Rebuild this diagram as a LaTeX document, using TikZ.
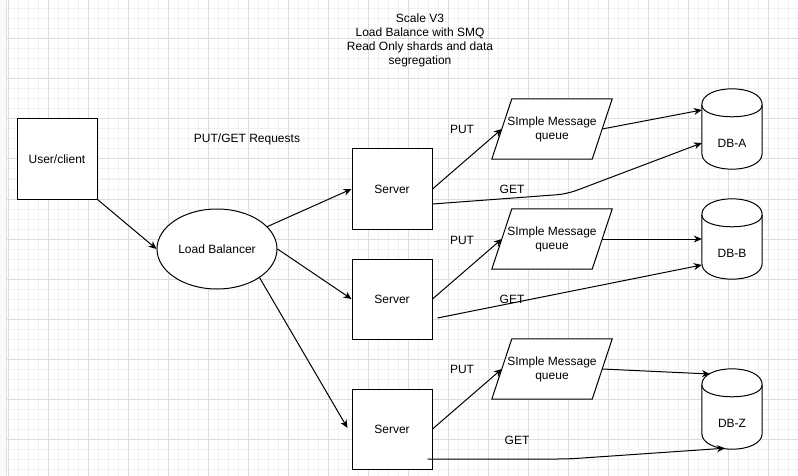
\documentclass[tikz,border=0pt]{standalone}
\usepackage{fontspec}
\setmainfont{Liberation Sans}
\usetikzlibrary{arrows.meta,calc,shapes.geometric}
\definecolor{minorgrid}{HTML}{F1F1F1}
\definecolor{majorgrid}{HTML}{DDDDDD}
\begin{document}
\begin{tikzpicture}[x=1pt,y=-1pt,
  lbl/.style={font=\fontsize{12}{14}\selectfont, inner sep=0pt},
  boxnode/.style={lbl, draw, fill=white, line width=1pt, minimum width=80pt, minimum height=80pt},
  lbnode/.style={lbl, draw, fill=white, line width=1pt, ellipse, minimum width=120pt, minimum height=80pt},
  qnode/.style={lbl, align=center, minimum width=100pt, minimum height=60pt},
  dbnode/.style={minimum width=60pt, minimum height=80pt, inner sep=0pt},
  arr/.style={-{Stealth[length=8pt,width=7pt]}, line width=1pt},
  shapeline/.style={draw, fill=white, line width=1pt}
]
\useasboundingbox (0,0) rectangle (798,476);
\fill[white] (0,0) rectangle (798,476);
% grid
\foreach \x in {8,18,...,798} \draw[minorgrid, line width=1pt] (\x,0) -- (\x,476);
\foreach \y in {9,19,...,476} \draw[minorgrid, line width=1pt] (6,\y) -- (798,\y);
\foreach \x in {8,48,...,798} \draw[majorgrid, line width=1pt] (\x,0) -- (\x,476);
\foreach \y in {39,79,...,476} \draw[majorgrid, line width=1pt] (6,\y) -- (798,\y);
\fill[gray!4] (0,0) rectangle (6,476);
\draw[gray!25, line width=1pt] (6,0) -- (6,476);

% title and labels
\node[lbl, align=center] (title) at (420,40) {Scale V3\\Load Balance with SMQ\\Read Only shards and data\\segregation};
\node[lbl] (reqlbl) at (247,139) {PUT/GET Requests};

% main nodes
\node[boxnode] (uc) at (57,159) {User/client};
\node[lbnode] (lb) at (217,249) {Load Balancer};
\node[boxnode] (s1) at (392,189) {Server};
\node[boxnode] (s2) at (392,299) {Server};
\node[boxnode] (s3) at (392,429) {Server};

% queues
\foreach \n/\y in {q1/129,q2/239,q3/369}{
  \node[qnode] (\n) at (552,\y) {};
  \path[shapeline] ([xshift=10pt]\n.north west) -- ([xshift=10pt]\n.north east) -- ([xshift=-10pt]\n.south east) -- ([xshift=-10pt]\n.south west) -- cycle;
  \node[lbl, align=center] (\n t) at (\n) {SImple Message\\queue};
}

% databases
\node[dbnode] (dba) at (732,129) {};
\node[dbnode] (dbb) at (732,239) {};
\node[dbnode] (dbz) at (732,409) {};
\foreach \n in {dba,dbb,dbz}{
  \path[shapeline] ($(\n.north west)+(0,16)$) .. controls ($(\n.north west)+(0,-5.33)$) and ($(\n.north east)+(0,-5.33)$) .. ($(\n.north east)+(0,16)$) -- ($(\n.south east)+(0,-16)$) .. controls ($(\n.south east)+(0,5.33)$) and ($(\n.south west)+(0,5.33)$) .. ($(\n.south west)+(0,-16)$) -- cycle;
  \draw[line width=1pt] ($(\n.north west)+(0,16)$) .. controls ($(\n.north west)+(0,32)$) and ($(\n.north east)+(0,32)$) .. ($(\n.north east)+(0,16)$);
}
\node[lbl] (dbat) at (732,143) {DB-A};
\node[lbl] (dbbt) at (732,253) {DB-B};
\node[lbl] (dbzt) at (732,423) {DB-Z};

% connectors
\draw[arr] (uc.south east) -- (lb.west);
\draw[arr] (lb.24) -- (s1.west);
\draw[arr] (lb.east) -- (s2.west);
\draw[arr] (lb.-34) -- ([xshift=-4pt,yshift=1pt]s3.west);

\draw[arr] (s1.east) -- (q1.west);
\draw[arr] (s2.east) -- (q2.west);
\draw[arr] (s3.east) -- (q3.west);

\draw[arr] (q1.east) -- ([yshift=19pt]dba.west);
\draw[arr] (q2.east) -- (dbb.west);
\draw[arr] (q3.east) -- ([xshift=-22pt,yshift=35pt]dbz.center);

\coordinate (g1) at (567,194);
\coordinate (g3) at (568,459);
\draw[arr, rounded corners=10pt] ([yshift=-15pt]s1.east) -- (g1) -- ([yshift=-14pt]dba.west);
\draw[arr] ([xshift=5pt,yshift=-19pt]s2.east) -- ([yshift=-26pt]dbb.west);
\draw[arr, rounded corners=10pt] ([xshift=-5pt,yshift=-30pt]s3.east) -- (g3) -- ([xshift=-7pt,yshift=1pt]dbz.south);

% edge labels
\node[lbl] (put1) at (462,129) {PUT};
\node[lbl] (put2) at (462,240) {PUT};
\node[lbl] (put3) at (462,369) {PUT};
\node[lbl] (get1) at (512,189) {GET};
\node[lbl] (get2) at (512,299) {GET};
\node[lbl] (get3) at (517,440) {GET};
\end{tikzpicture}
\end{document}
